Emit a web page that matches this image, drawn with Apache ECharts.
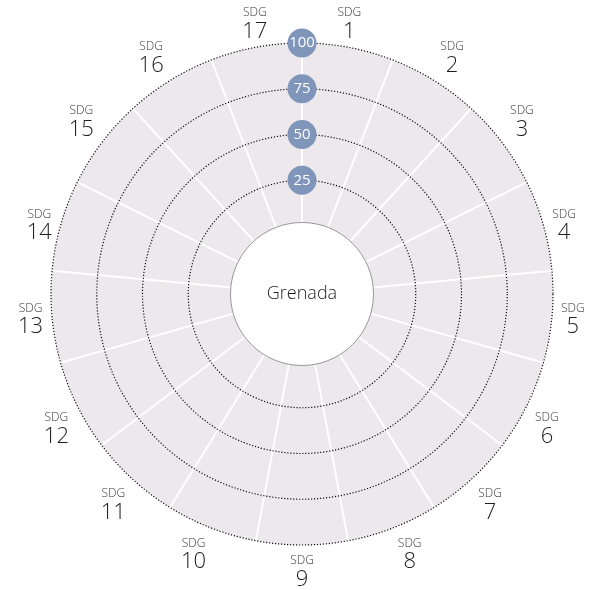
<!DOCTYPE html>
<html>
<head>
<meta charset="utf-8">
<script src="https://cdn.jsdelivr.net/npm/echarts@6/dist/echarts.min.js"></script>
<style>
  html, body { margin: 0; padding: 0; background: #fff; }
  #chart { width: 600px; height: 590px; }
</style>
</head>
<body>
<div id="chart"></div>
<script>
const country = 'Grenada';
const goals = ['1', '2', '3', '4', '5', '6', '7', '8', '9', '10', '11', '12', '13', '14', '15', '16', '17'];
// no scores reported for this country
const scores = [null, null, null, null, null, null, null, null, null, null, null, null, null, null, null, null, null];
const scaleMax = 100;
const scaleStep = 25;

const center = [302, 294];
const radius = [68, 251];
const font = '"Open Sans", "Noto Sans", sans-serif';

const chart = echarts.init(document.getElementById('chart'));

chart.setOption({
  animation: false,
  // two polars on top of each other: the lower one carries the fill and the goal names,
  // the upper one the white sector lines, dotted rings and the scale badges
  polar: [
    { center: center, radius: radius },
    { center: center, radius: radius }
  ],
  angleAxis: [
    {
      polarIndex: 0,
      type: 'category',
      data: goals,
      startAngle: 90,
      z: 1,
      axisLine: { show: false },
      axisTick: { show: false },
      splitLine: { show: false },
      splitArea: { show: true, areaStyle: { color: ['#ece8ec'] } },
      axisLabel: {
        margin: 6,
        padding: [0, 3, 0, 3],
        fontFamily: font,
        formatter: v => '{a|SDG}\n{b|' + v + '}',
        rich: {
          a: { fontSize: 12, fontWeight: 300, color: '#3a3a3a', align: 'center', lineHeight: 19, fontFamily: font },
          b: { fontSize: 22, fontWeight: 300, color: '#1e1e1e', align: 'center', lineHeight: 19, fontFamily: font }
        }
      }
    },
    {
      polarIndex: 1,
      type: 'category',
      data: goals,
      startAngle: 90,
      z: 2,
      axisLine: { show: false },
      axisTick: { show: false },
      axisLabel: { show: false },
      splitArea: { show: false },
      splitLine: { show: true, lineStyle: { color: '#fff', width: 2 } }
    }
  ],
  radiusAxis: [
    {
      polarIndex: 0,
      min: 0,
      max: scaleMax,
      interval: scaleStep,
      show: false
    },
    {
      polarIndex: 1,
      min: 0,
      max: scaleMax,
      interval: scaleStep,
      z: 3,
      axisLine: { show: false },
      axisTick: { show: false },
      splitArea: { show: false },
      splitLine: { show: true, lineStyle: { color: '#111', width: 1.2, type: [1.2, 1.8] } },
      axisLabel: {
        showMinLabel: false,
        formatter: v => (v === 0 ? '' : String(v)),
        margin: 0,
        align: 'center',
        verticalAlign: 'middle',
        color: '#fff',
        fontSize: 15,
        fontFamily: font,
        backgroundColor: '#7f95ba',
        borderRadius: 15,
        width: 23,
        height: 23,
        lineHeight: 23,
        padding: 3
      }
    }
  ],
  series: [
    {
      type: 'bar',
      coordinateSystem: 'polar',
      polarIndex: 0,
      data: scores,
      itemStyle: { color: '#7f95ba' }
    },
    {
      type: 'pie',
      center: center,
      radius: [0, 71.5],
      silent: true,
      z: 10,
      itemStyle: { color: '#fff', borderColor: '#999', borderWidth: 1 },
      label: { position: 'center', formatter: country, fontSize: 18, fontWeight: 300, color: '#1e1e1e', fontFamily: font },
      labelLine: { show: false },
      data: [{ value: 1, name: country }]
    }
  ]
});
</script>
</body>
</html>
